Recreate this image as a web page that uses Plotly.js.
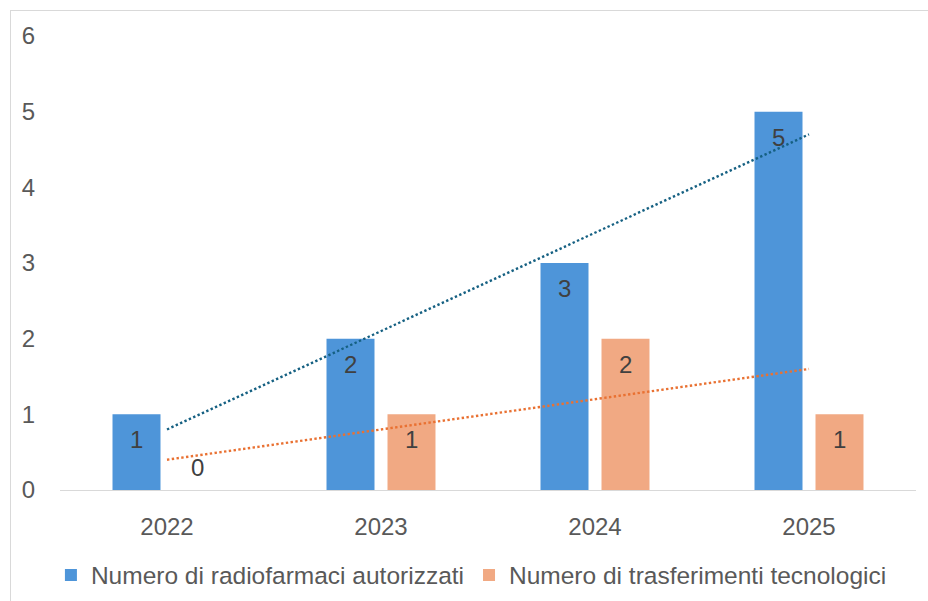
<!DOCTYPE html>
<html>
<head>
<meta charset="utf-8">
<script src="https://cdn.plot.ly/plotly-3.0.1.min.js"></script>
<style>
  html, body { margin: 0; padding: 0; background: #fff; }
  #wrap { position: relative; width: 928px; height: 601px; overflow: hidden; }
  #chart { position: absolute; left: 0; top: 0; width: 928px; height: 601px; }
  #frame { position: absolute; left: 10px; top: 10px; width: 1000px; height: 1000px;
           border-left: 1.5px solid #d9d9d9; border-top: 1.5px solid #d9d9d9; pointer-events: none; }
</style>
</head>
<body>
<div id="wrap"><div id="chart"></div><div id="frame"></div></div>
<script>
const years = ['2022', '2023', '2024', '2025'];
const radiofarmaci = [1, 2, 3, 5];
const trasferimenti = [0, 1, 2, 1];
const seriesNames = ['Numero di radiofarmaci autorizzati', 'Numero di trasferimenti tecnologici'];

const FONT = 'Liberation Sans, Arial, sans-serif';
const barColors = ['#4E95D9', '#F1A983'];
const trendColors = ['#156082', '#E97132'];
const xIdx = years.map((_, i) => i);

function linFit(vals) {
  const n = vals.length;
  const xs = vals.map((_, i) => i + 1);
  const mx = xs.reduce((a, b) => a + b, 0) / n;
  const my = vals.reduce((a, b) => a + b, 0) / n;
  let num = 0, den = 0;
  for (let i = 0; i < n; i++) { num += (xs[i] - mx) * (vals[i] - my); den += (xs[i] - mx) ** 2; }
  const slope = num / den, icpt = my - slope * mx;
  return xs.map(x => icpt + slope * x);
}

const allSeries = [radiofarmaci, trasferimenti];
const traces = [];
allSeries.forEach((vals, k) => {
  traces.push({
    type: 'bar', x: xIdx, y: vals, name: seriesNames[k],
    marker: { color: barColors[k], line: { width: 0 } },
    hoverinfo: 'skip'
  });
});
allSeries.forEach((vals, k) => {
  const fit = linFit(vals);
  traces.push({
    type: 'scatter', mode: 'lines', x: [xIdx[0], xIdx[xIdx.length - 1]],
    y: [fit[0], fit[fit.length - 1]], showlegend: false, hoverinfo: 'skip',
    line: { color: trendColors[k], width: 2.4, dash: '2.4px,2.4px' }
  });
});

const annotations = [];
allSeries.forEach((vals, k) => {
  vals.forEach((v, i) => {
    annotations.push({
      x: xIdx[i], y: v, xref: 'x', yref: 'y', text: String(v), showarrow: false,
      xshift: k === 0 ? -30.5 : 30.5, yshift: v === 0 ? 23 : -25.5,
      yanchor: 'middle', xanchor: 'center',
      font: { family: FONT, size: 24, color: '#404040' }
    });
  });
});

const layout = {
  width: 928, height: 601,
  margin: { l: 60, r: 12, t: 36, b: 111, pad: 0 },
  paper_bgcolor: '#ffffff', plot_bgcolor: '#ffffff',
  font: { family: FONT, size: 24, color: '#595959' },
  barmode: 'group', bargap: 0.43, bargroupgap: 0.213,
  showlegend: true,
  legend: {
    orientation: 'h', xref: 'container', yref: 'container',
    x: 0.508, xanchor: 'center', y: 0.0433, yanchor: 'middle',
    font: { family: FONT, size: 24.5, color: '#595959' }, traceorder: 'normal'
  },
  xaxis: {
    range: [-0.5, 3.5], tickmode: 'array', tickvals: xIdx, ticktext: years,
    showgrid: false, zeroline: false, showline: true, automargin: false,
    linecolor: '#d9d9d9', linewidth: 1.3, ticks: '', ticklabelstandoff: 15,
    tickfont: { family: FONT, size: 24, color: '#595959' }
  },
  yaxis: {
    range: [0, 6], dtick: 1, showgrid: false, zeroline: false, showline: false,
    ticks: '', ticklabelstandoff: 24, automargin: false,
    tickfont: { family: FONT, size: 24, color: '#595959' }
  },
  annotations: annotations
};

Plotly.newPlot('chart', traces, layout, { staticPlot: true, displayModeBar: false });
</script>
</body>
</html>
